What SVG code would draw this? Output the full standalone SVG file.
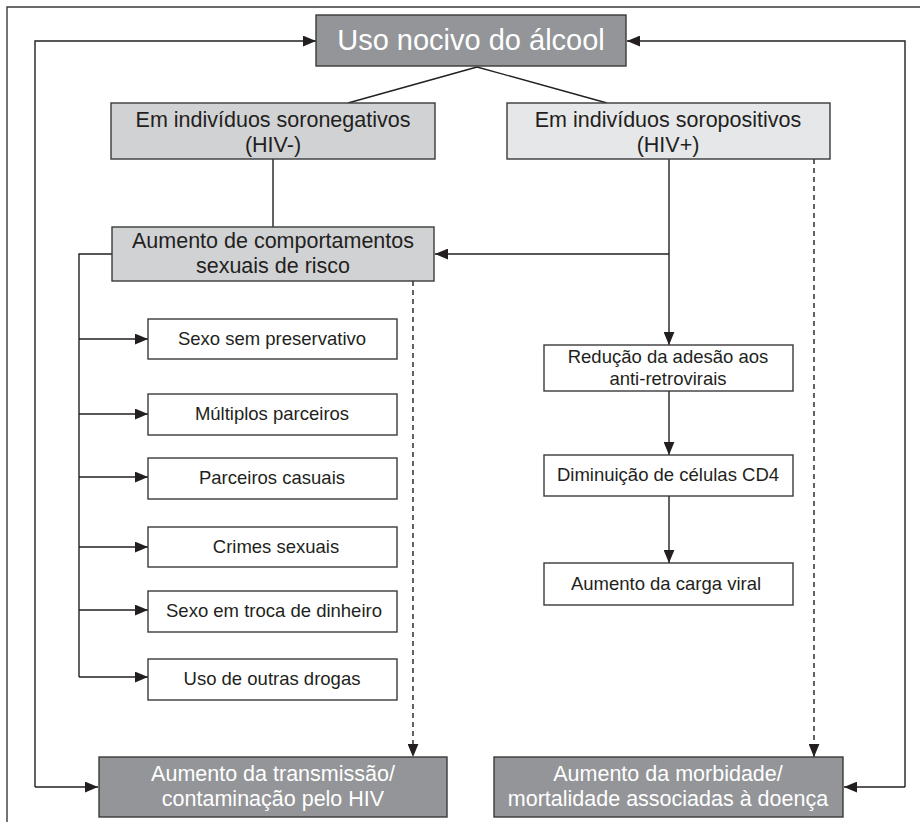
<svg xmlns="http://www.w3.org/2000/svg" width="920" height="822" viewBox="0 0 920 822">
<defs>
<marker id="ah" viewBox="0 0 12 10" refX="12" refY="5" markerWidth="13" markerHeight="11" markerUnits="userSpaceOnUse" orient="auto">
<path d="M0,0 L12,5 L0,10 z" fill="#231f20"/>
</marker>
<style>
.box{stroke:#3a3a3a;stroke-width:1.4}
.dark{fill:#939598}
.mid{fill:#d1d2d4}
.light{fill:#e6e7e8}
.white{fill:#ffffff}
text{font-family:"Liberation Sans",Arial,sans-serif;text-anchor:middle;fill:#231f20}
.wt{fill:#ffffff}
.t27{font-size:29px}
.t19{font-size:21.5px}
.t16{font-size:18.5px}
.ln{fill:none;stroke:#231f20;stroke-width:1.4}
.ds{fill:none;stroke:#231f20;stroke-width:1.4;stroke-dasharray:5,4}
</style>
</defs>
<rect x="0" y="0" width="920" height="822" fill="#ffffff"/>
<path d="M7,822 V7 H920" fill="none" stroke="#3a3a3a" stroke-width="1.4"/>

<g id="connectors">
<path class="ln" d="M35,787 V41 H316" marker-end="url(#ah)"/>
<path class="ln" d="M35,787 H98" marker-end="url(#ah)"/>
<path class="ln" d="M905,787 V41 H627" marker-end="url(#ah)"/>
<path class="ln" d="M905,787 H844" marker-end="url(#ah)"/>
<path class="ln" d="M477,67 L348,103"/>
<path class="ln" d="M477,67 L607,103"/>
<path class="ln" d="M273,159 V227"/>
<path class="ln" d="M669,159 V345" marker-end="url(#ah)"/>
<path class="ln" d="M669,254 H435" marker-end="url(#ah)"/>
<path class="ln" d="M112,254 H79 V677"/>
<path class="ln" d="M79,339 H148" marker-end="url(#ah)"/>
<path class="ln" d="M79,414 H148" marker-end="url(#ah)"/>
<path class="ln" d="M79,477 H148" marker-end="url(#ah)"/>
<path class="ln" d="M79,547 H148" marker-end="url(#ah)"/>
<path class="ln" d="M79,610 H148" marker-end="url(#ah)"/>
<path class="ln" d="M79,677 H148" marker-end="url(#ah)"/>
<path class="ln" d="M669,391 V455" marker-end="url(#ah)"/>
<path class="ln" d="M669,496 V563" marker-end="url(#ah)"/>
<path class="ds" d="M413,281 V757" marker-end="url(#ah)"/>
<path class="ds" d="M814,159 V757" marker-end="url(#ah)"/>
</g>

<g id="uso">
<rect class="box dark" x="316" y="15" width="310" height="51"/>
<text class="wt t27" x="471" y="50">Uso nocivo do álcool</text>
</g>
<g id="soroneg">
<rect class="box mid" x="111" y="103" width="324" height="56"/>
<text class="t19" x="273" y="127">Em indivíduos soronegativos<tspan x="273" dy="25">(HIV-)</tspan></text>
</g>
<g id="soropos">
<rect class="box light" x="507" y="103" width="323" height="56"/>
<text class="t19" x="668" y="127">Em indivíduos soropositivos<tspan x="668" dy="25">(HIV+)</tspan></text>
</g>
<g id="comport">
<rect class="box mid" x="112" y="227" width="322" height="54"/>
<text class="t19" x="273" y="248">Aumento de comportamentos<tspan x="273" dy="25">sexuais de risco</tspan></text>
</g>
<g id="n1">
<rect class="box white" x="148" y="319" width="249" height="40"/>
<text class="t16" x="272" y="345">Sexo sem preservativo</text>
</g>
<g id="n2">
<rect class="box white" x="148" y="394" width="249" height="41"/>
<text class="t16" x="272" y="420">Múltiplos parceiros</text>
</g>
<g id="n3">
<rect class="box white" x="148" y="458" width="249" height="41"/>
<text class="t16" x="272" y="484">Parceiros casuais</text>
</g>
<g id="n4">
<rect class="box white" x="148" y="527" width="249" height="40"/>
<text class="t16" x="276" y="553">Crimes sexuais</text>
</g>
<g id="n5">
<rect class="box white" x="148" y="591" width="249" height="41"/>
<text class="t16" x="274" y="617">Sexo em troca de dinheiro</text>
</g>
<g id="n6">
<rect class="box white" x="148" y="659" width="249" height="41"/>
<text class="t16" x="272" y="685">Uso de outras drogas</text>
</g>
<g id="reducao">
<rect class="box white" x="544" y="345" width="249" height="46"/>
<text class="t16" x="668" y="363">Redução da adesão aos<tspan x="668" dy="22">anti-retrovirais</tspan></text>
</g>
<g id="cd4">
<rect class="box white" x="544" y="455" width="249" height="41"/>
<text class="t16" x="668" y="481">Diminuição de células CD4</text>
</g>
<g id="carga">
<rect class="box white" x="544" y="563" width="249" height="42"/>
<text class="t16" x="666" y="590">Aumento da carga viral</text>
</g>
<g id="transmissao">
<rect class="box dark" x="99" y="757" width="348" height="60"/>
<text class="wt t19" x="273" y="781">Aumento da transmissão/<tspan x="273" dy="25">contaminação pelo HIV</tspan></text>
</g>
<g id="morbidade">
<rect class="box dark" x="494" y="757" width="349" height="60"/>
<text class="wt t19" x="668" y="781">Aumento da morbidade/<tspan x="668" dy="25">mortalidade associadas à doença</tspan></text>
</g>
</svg>
